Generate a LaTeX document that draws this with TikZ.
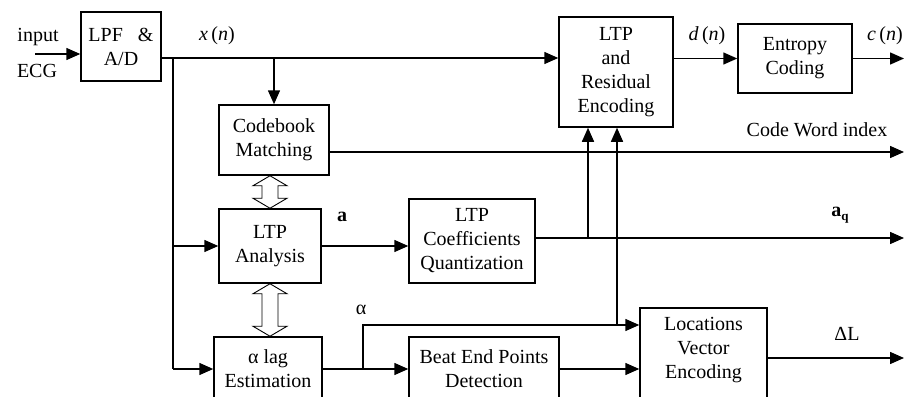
\documentclass[tikz,border=0pt]{standalone}
\usepackage{fontspec}
\setmainfont{Liberation Serif}
\usetikzlibrary{arrows.meta,calc}
\newcommand\bodyfont{\fontsize{20}{24}\selectfont}
\newcommand\subfont{\fontsize{13}{14}\selectfont}
\begin{document}
\begin{tikzpicture}[x=1pt,y=-1pt,
  box/.style={draw, line width=1.5pt, align=center, inner sep=0pt, font=\bodyfont},
  wire/.style={line width=1.5pt},
  arr/.style={wire, -{Triangle[length=14pt,width=12pt]}},
  hollow/.style={line width=0.9pt, line join=miter},
  lbl/.style={font=\bodyfont, inner sep=0pt, align=center}]
\useasboundingbox (0,0) rectangle (904,396);
\clip (0,0) rectangle (904,396);

% processing blocks
\node[box, minimum width=80, minimum height=69]  (lpf)    at (121,46.5) {LPF\hspace{0.75em}\&\\A/D};
\node[box, minimum width=114, minimum height=110] (ltpres) at (616,72) {LTP\\and\\Residual\\Encoding};
\node[box, minimum width=114, minimum height=69] (ent)    at (795,58.5) {Entropy\\Coding};
\node[box, minimum width=110, minimum height=70] (cbm)    at (274,140) {Codebook\\Matching};
\node[box, minimum width=102, minimum height=74] (ltpa)   at (270,246) {LTP\\Analysis};
\node[box, minimum width=126, minimum height=84] (ltpc)   at (472,241) {LTP\\Coefficients\\Quantization};
\node[box, minimum width=108, minimum height=64] (alag)   at (268,369) {α lag\\Estimation};
\node[box, minimum width=150, minimum height=64] (beat)   at (484,369) {Beat End Points\\Detection};
\node[box, minimum width=127, minimum height=100] (loc)   at (703.5,358) {};
\node[lbl] (loctext) at (703.5,350) {Locations\\Vector\\Encoding};

% reference levels and branch points
\coordinate (in)  at (35,54);
\coordinate (xr)  at (904,0);
\coordinate (yx)  at (0,58);
\coordinate (ycw) at (0,152);
\coordinate (yaq) at (0,238);
\coordinate (yal) at (0,325);
\coordinate (b1)  at (173,58);
\coordinate (b3)  at (588,238);
\coordinate (b4)  at (363,0);
\coordinate (b5)  at (617,325);

% signal flow
\draw[arr] (in) -- (in -| lpf.west);
\draw[arr] (lpf.east |- yx) -- (ltpres.west |- yx);
\draw[wire] (b1) -- (b1 |- alag.west);
\draw[arr] (b1 |- ltpa.west) -- (ltpa.west);
\draw[arr] (b1 |- alag.west) -- (alag.west);
\draw[arr] (cbm.north |- yx) -- (cbm.north);
\draw[arr] (ltpres.east |- ent.west) -- (ent.west);
\draw[arr] (ent.east) -- (ent.east -| xr);
\draw[arr] (cbm.east |- ycw) -- (xr |- ycw);
\draw[arr] (ltpa.east) -- (ltpa.east -| ltpc.west);
\draw[arr] (ltpc.east |- yaq) -- (xr |- yaq);
\draw[arr] (b3) -- (b3 |- ltpres.south);
\draw[arr] (alag.east) -- (beat.west);
\draw[arr] (b4 |- alag.east) -- (b4 |- yal) -- (loc.west |- yal);
\draw[arr] (b5) -- (b5 |- ltpres.south);
\draw[arr] (beat.east) -- (beat.east -| loc.west);
\draw[arr] (loc.east) -- (loc.east -| xr);

% two-way exchanges between the analysis blocks
\coordinate (h1) at (ltpa.north |- cbm.south);
\draw[hollow] (h1) -- ++(17,10) -- ++(-9,0) -- ($(ltpa.north)+(8,-10)$) -- ++(9,0) -- (ltpa.north)
  -- ++(-17,-10) -- ++(9,0) -- ($(h1)+(-8,10)$) -- ++(-9,0) -- cycle;
\coordinate (h2) at (ltpa.south |- alag.north);
\draw[hollow] (ltpa.south) -- ++(17,10) -- ++(-9,0) -- ($(h2)+(8,-10)$) -- ++(9,0) -- (h2)
  -- ++(-17,-10) -- ++(9,0) -- ($(ltpa.south)+(-8,10)$) -- ++(-9,0) -- cycle;

% signal labels
\node[lbl] (lin)  at (38,37)  {input};
\node[lbl] (lecg) at (37,71)  {ECG};
\node[lbl] (lx)   at (217,36) {\textit{x}\,(\textit{n})};
\node[lbl] (ld)   at (707,36) {\textit{d}\,(\textit{n})};
\node[lbl] (lc)   at (885,36) {\textit{c}\,(\textit{n})};
\node[lbl] (lcw)  at (817,130) {Code Word index};
\node[lbl] (la)   at (342,217) {\textbf{a}};
\node[lbl] (laq)  at (840,215) {\textbf{a}\raisebox{-0.5ex}{\subfont\textbf{q}}};
\node[lbl] (lal)  at (361,310) {α};
\node[lbl] (ldl)  at (847,334) {ΔL};
\end{tikzpicture}
\end{document}
